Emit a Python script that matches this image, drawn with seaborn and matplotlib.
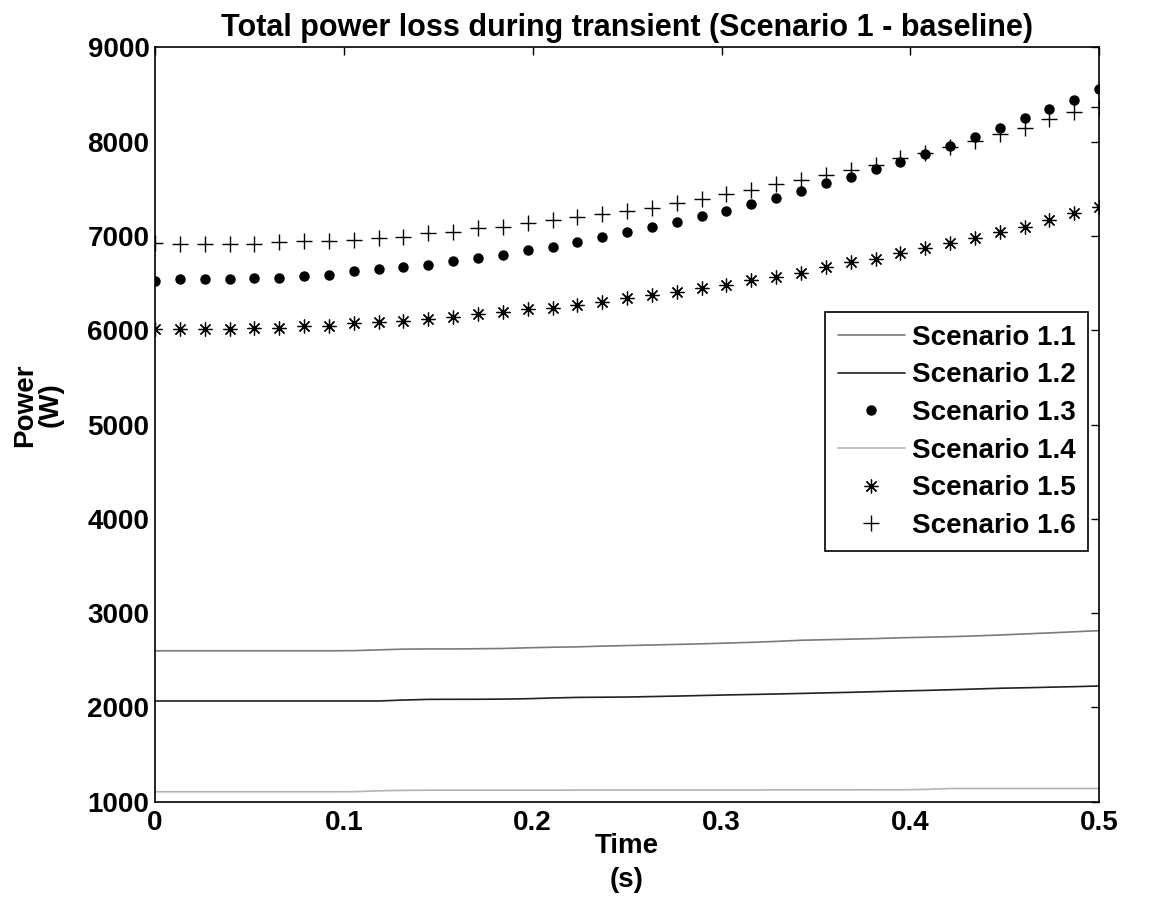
import numpy as np
import pandas as pd
import matplotlib
matplotlib.use('Agg')
import matplotlib.pyplot as plt
import seaborn as sns

# Time samples (s) - 39 points spread over the transient
time_s = np.linspace(0, 0.5, 39)

# Power loss per scenario (W)
scenario_1_1 = [2600, 2600, 2600, 2600, 2600, 2600, 2600, 2600, 2602, 2610,
                2618, 2620, 2620, 2622, 2625, 2632, 2638, 2642, 2650, 2656,
                2662, 2668, 2674, 2682, 2690, 2700, 2712, 2718, 2724, 2730,
                2738, 2744, 2750, 2758, 2768, 2779, 2790, 2802, 2814]
scenario_1_2 = [2068, 2068, 2068, 2068, 2068, 2068, 2068, 2068, 2068, 2068,
                2078, 2085, 2086, 2086, 2088, 2092, 2100, 2106, 2108, 2110,
                2115, 2120, 2126, 2132, 2137, 2142, 2148, 2154, 2160, 2167,
                2174, 2180, 2187, 2195, 2203, 2208, 2214, 2220, 2227]
scenario_1_3 = [6525, 6540, 6540, 6540, 6557, 6557, 6575, 6585, 6628, 6646,
                6674, 6692, 6734, 6766, 6797, 6850, 6882, 6935, 6988, 7041,
                7091, 7144, 7214, 7264, 7335, 7402, 7473, 7558, 7628, 7713,
                7781, 7865, 7953, 8052, 8141, 8247, 8349, 8438, 8558]
scenario_1_4 = [1105, 1105, 1105, 1105, 1105, 1105, 1105, 1105, 1106, 1115,
                1120, 1122, 1122, 1122, 1122, 1122, 1122, 1123, 1123, 1123,
                1123, 1124, 1124, 1124, 1124, 1125, 1125, 1125, 1125, 1126,
                1126, 1130, 1140, 1140, 1140, 1140, 1140, 1140, 1140]
scenario_1_5 = [6010, 6010, 6010, 6010, 6027, 6027, 6048, 6045, 6073, 6084,
                6101, 6119, 6137, 6169, 6190, 6222, 6239, 6267, 6300, 6338,
                6373, 6408, 6444, 6479, 6532, 6567, 6610, 6667, 6720, 6752,
                6822, 6869, 6922, 6975, 7045, 7098, 7169, 7240, 7310]
scenario_1_6 = [6920, 6914, 6914, 6914, 6914, 6932, 6943, 6945, 6957, 6975,
                6992, 7028, 7045, 7080, 7098, 7133, 7169, 7197, 7232, 7264,
                7299, 7352, 7388, 7441, 7487, 7547, 7593, 7646, 7699, 7752,
                7823, 7882, 7946, 8010, 8081, 8144, 8237, 8317, 8370]

labels = ['Scenario 1.1', 'Scenario 1.2', 'Scenario 1.3',
          'Scenario 1.4', 'Scenario 1.5', 'Scenario 1.6']
values = [scenario_1_1, scenario_1_2, scenario_1_3,
          scenario_1_4, scenario_1_5, scenario_1_6]

df = pd.DataFrame({
    'Time': np.tile(time_s, len(labels)),
    'Power': np.concatenate(values),
    'Scenario': np.repeat(labels, len(time_s)),
})

styles = {
    'Scenario 1.1': dict(color='#7a7a7a', linewidth=1.2),
    'Scenario 1.2': dict(color='#222222', linewidth=1.2),
    'Scenario 1.3': dict(color='black', linestyle='', marker='o', markersize=6.5,
                         markeredgecolor='black', markeredgewidth=1),
    'Scenario 1.4': dict(color='#b4b4b4', linewidth=1.2),
    'Scenario 1.5': dict(color='black', linestyle='', marker=(8, 2, 0), markersize=10,
                         markeredgecolor='black', markeredgewidth=0.9),
    'Scenario 1.6': dict(color='black', linestyle='', marker='+', markersize=12,
                         markeredgecolor='black', markeredgewidth=1.0),
}

sns.set_theme(style='white')
plt.rcParams['font.family'] = ['Liberation Sans', 'DejaVu Sans']
plt.rcParams['font.weight'] = 'bold'
plt.rcParams['text.color'] = 'black'
plt.rcParams['axes.labelcolor'] = 'black'

fig = plt.figure(figsize=(11.57, 9.11), dpi=100)
ax = fig.add_axes([0.134, 0.120, 0.816, 0.828])

for name in labels:
    sub = df[df['Scenario'] == name]
    sns.lineplot(data=sub, x='Time', y='Power', ax=ax, label=name,
                 sort=False, **styles[name])

ax.set_xlim(0, 0.5)
ax.set_ylim(1000, 9000)
ax.set_xticks([0, 0.1, 0.2, 0.3, 0.4, 0.5])
ax.set_xticklabels(['0', '0.1', '0.2', '0.3', '0.4', '0.5'])
ax.set_yticks(range(1000, 9001, 1000))
ax.tick_params(direction='in', length=6, width=1, color='black',
               top=True, right=True, labelsize=20, labelcolor='black')
ax.tick_params(axis='x', pad=6)
ax.tick_params(axis='y', pad=4)
for lab in ax.get_xticklabels() + ax.get_yticklabels():
    lab.set_fontweight('bold')
for sp in ax.spines.values():
    sp.set_color('black')
    sp.set_linewidth(1.2)

ax.set_xlabel('')
ax.set_ylabel('')
ax.set_title('Total power loss during transient (Scenario 1 - baseline)',
             fontsize=22, fontweight='bold', pad=8, color='black')
fig.text(627 / 1157, 1 - 863 / 911, 'Time\n(s)', ha='center', va='center',
         fontsize=20, fontweight='bold', linespacing=1.4, color='black')
fig.text(38 / 1157, 1 - 405 / 911, 'Power\n(W)', rotation=90, ha='center',
         va='center', fontsize=20, fontweight='bold', multialignment='center',
         linespacing=1.0, color='black')

leg = ax.legend(loc='upper right', bbox_to_anchor=(0.988, 0.649), fontsize=20,
                frameon=True, fancybox=False, edgecolor='black', framealpha=1,
                numpoints=1, handlelength=2.4, labelspacing=0.42,
                borderpad=0.45, handletextpad=0.25, borderaxespad=0)
leg.get_frame().set_linewidth(1.2)
for t in leg.get_texts():
    t.set_fontweight('bold')
    t.set_color('black')

fig.savefig('out.png', dpi=100)
